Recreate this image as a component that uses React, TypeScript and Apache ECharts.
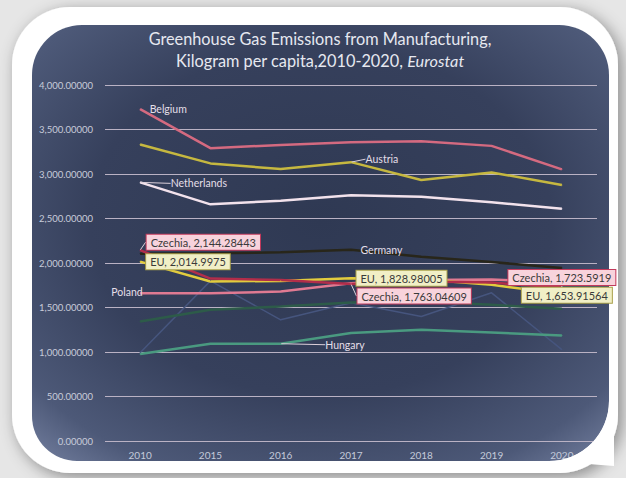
import React, { useEffect, useRef } from 'react';
import * as echarts from 'echarts';

const years = ['2010', '2015', '2016', '2017', '2018', '2019', '2020'];
const belgium = [3728, 3290, 3327, 3358, 3369, 3316, 3052];
const austria = [3332, 3119, 3055, 3133, 2932, 3018, 2876];
const netherlands = [2906, 2659, 2700, 2760, 2745, 2682, 2610];
const germany = [2105, 2110, 2120, 2150, 2070, 2010, 1945];
const czechia = [2144.28443, 1825, 1810, 1763.04609, 1792, 1780, 1723.5919];
const eu = [2014.9975, 1792, 1799, 1828.98005, 1818, 1755, 1653.91564];
const poland = [1661, 1661, 1679, 1773, 1810, 1815, 1785];
const otherA = [1343, 1474, 1511, 1556, 1567, 1530, 1485];
const hungary = [977, 1093, 1093, 1213, 1250, 1220, 1186];
const otherB = [992, 1799, 1362, 1553, 1399, 1665, 1026];
const yTicks = { min: 0, max: 4000, interval: 500 };

echarts.graphic.registerShape(
  'cornerMask',
  echarts.graphic.extendPath('M609 401 A60 60 0 0 1 549 461 L614 466 L614 401 Z', {})
);

const FONT = 'Lato';
const fmtVal = (v: number) => v.toLocaleString('en-US', { maximumFractionDigits: 5 });

const nameLabel = (position: any, distance: number, extra: any = {}) => ({
  show: true,
  formatter: '{a}',
  position,
  distance,
  color: '#e4dfe8',
  fontSize: 10.5,
  fontFamily: FONT,
  ...extra,
});

const boxLabel = (fill: string, border: string, position: any, distance: number, extra: any = {}) => ({
  show: true,
  formatter: (p: any) => `${p.seriesName}, ${fmtVal(p.value)}`,
  position,
  distance,
  color: '#3a3a3a',
  fontSize: 11,
  fontFamily: FONT,
  backgroundColor: fill,
  borderColor: border,
  borderWidth: 1,
  padding: [2, 4, 2, 4],
  ...extra,
});

function mk(
  name: string,
  values: number[],
  color: string,
  width: number,
  labels: Record<number, any> = {},
  layout?: Record<number, { dx?: number; dy?: number }>,
  leader = false,
  z = 2,
  hidden = false
) {
  return {
    type: 'line',
    name,
    z,
    data: values.map((v, i) => (labels[i] ? { value: v, label: labels[i] } : v)),
    showSymbol: true,
    symbol: 'circle',
    symbolSize: 1,
    itemStyle: { color: hidden ? 'rgba(0,0,0,0)' : color },
    lineStyle: { color, width, opacity: hidden ? 0 : 1 },
    label: { show: false },
    labelLine: leader
      ? { show: true, lineStyle: { color: '#dcd0da', width: 1 } }
      : { show: false },
    labelLayout: layout ? (p: any) => layout[p.dataIndex] || {} : undefined,
    emphasis: { disabled: true },
  };
}

const pinkFill = '#f8d3dc';
const pinkBorder = '#c23a5c';
const yelFill = '#f1efc6';
const yelBorder = '#a9a04a';

const option: any = {
  animation: false,
  title: {
    left: 320,
    top: 27,
    textAlign: 'center',
    padding: 0,
    text: 'Greenhouse Gas Emissions from Manufacturing,\nKilogram per capita,2010-2020, {i|Eurostat}',
    textStyle: {
      color: '#e6e8f0',
      fontSize: 16.3,
      fontWeight: 'normal',
      fontFamily: FONT,
      lineHeight: 22,
      rich: {
        i: { fontStyle: 'italic', color: '#e6e8f0', fontSize: 16.3, fontFamily: FONT, lineHeight: 22 },
      },
    },
  },
  graphic: [
    {
      type: 'rect',
      z: -20,
      shape: { x: 12, y: 7, width: 606, height: 466, r: 58 },
      style: { fill: '#ffffff', shadowBlur: 16, shadowColor: 'rgba(0,0,0,0.4)', shadowOffsetX: 4, shadowOffsetY: 4 },
    },
    {
      type: 'rect',
      z: -10,
      shape: { x: 32, y: 25, width: 577, height: 436, r: [50, 50, 60, 45] },
      style: {
        fill: {
          type: 'radial',
          x: 0.5,
          y: 0.45,
          r: 0.8,
          colorStops: [
            { offset: 0, color: '#2f3953' },
            { offset: 0.5, color: '#36405c' },
            { offset: 0.78, color: '#4d5978' },
            { offset: 1, color: '#8692b2' },
          ],
        },
      },
    },
    {
      type: 'cornerMask',
      z: 100,
      x: 0,
      y: 0,
      style: { fill: '#ffffff' },
    },
  ],
  grid: { left: 105, right: 29, top: 85, bottom: 37, containLabel: false },
  xAxis: {
    type: 'category',
    data: years,
    boundaryGap: true,
    axisLine: { show: false },
    axisTick: { show: false },
    axisLabel: { color: '#c4cada', fontSize: 10, fontFamily: FONT, margin: 9 },
  },
  yAxis: {
    type: 'value',
    min: yTicks.min,
    max: yTicks.max,
    interval: yTicks.interval,
    axisLine: { show: false },
    axisTick: { show: false },
    axisLabel: {
      color: '#c8ccda',
      fontSize: 9.5,
      fontFamily: FONT,
      margin: 12,
      formatter: (v: number) => v.toLocaleString('en-US', { minimumFractionDigits: 5, maximumFractionDigits: 5 }),
    },
    splitLine: { lineStyle: { color: '#bab2c4', width: 1.2 } },
  },
  series: [
    mk('Other B', otherB, '#46557e', 1.5),
    mk('Hungary', hungary, '#4a9a80', 2.5, { 2: nameLabel('right', 5) }, { 2: { dx: 39, dy: 1 } }, true),
    mk('Other A', otherA, '#2d5b49', 2.5),
    mk('Poland', poland, '#e07a92', 2.5, { 0: nameLabel('left', -3) }, { 0: { dy: -1 } }),
    mk('Germany', germany, '#28261a', 2.5, { 3: nameLabel('right', 9) }),
    mk('Netherlands', netherlands, '#f2e2ec', 2.5, { 0: nameLabel('right', 5) }, { 0: { dx: 25, dy: 1 } }, true),
    mk('Austria', austria, '#c6b840', 2.5, { 3: nameLabel('right', 5) }, { 3: { dx: 9, dy: -3 } }, true),
    mk('Belgium', belgium, '#d46a80', 2.5, { 0: nameLabel('right', 9) }),
    mk('EU', eu, '#e2cc3e', 2.5),
    mk('Czechia', czechia, '#b12d4a', 2.5),
    // label overlays (drawn above every line)
    mk(
      'EU',
      eu,
      '#e2cc3e',
      2.5,
      {
        0: boxLabel(yelFill, yelBorder, 'right', 5.5),
        3: boxLabel(yelFill, yelBorder, 'right', 5),
        6: boxLabel(yelFill, yelBorder, 'inside', 0, { offset: [5, 1.5] }),
      },
      undefined,
      false,
      10,
      true
    ),
    mk(
      'Czechia',
      czechia,
      '#b12d4a',
      2.5,
      {
        0: boxLabel(pinkFill, pinkBorder, 'right', 6),
        3: boxLabel(pinkFill, pinkBorder, 'right', 6),
        6: boxLabel(pinkFill, pinkBorder, 'top', 2, { offset: [-2, 0] }),
      },
      { 0: { dy: -8 }, 3: { dy: 12 } },
      true,
      11,
      true
    ),
  ],
};

export default function App() {
  const ref = useRef<HTMLDivElement>(null);
  useEffect(() => {
    if (!ref.current) return;
    const chart = echarts.init(ref.current, null, { renderer: 'svg' });
    chart.setOption(option);
    return () => chart.dispose();
  }, []);
  return (
    <div
      ref={ref}
      style={{ position: 'fixed', left: 0, top: 0, width: 626, height: 478, background: '#e6e6e6' }}
    />
  );
}
